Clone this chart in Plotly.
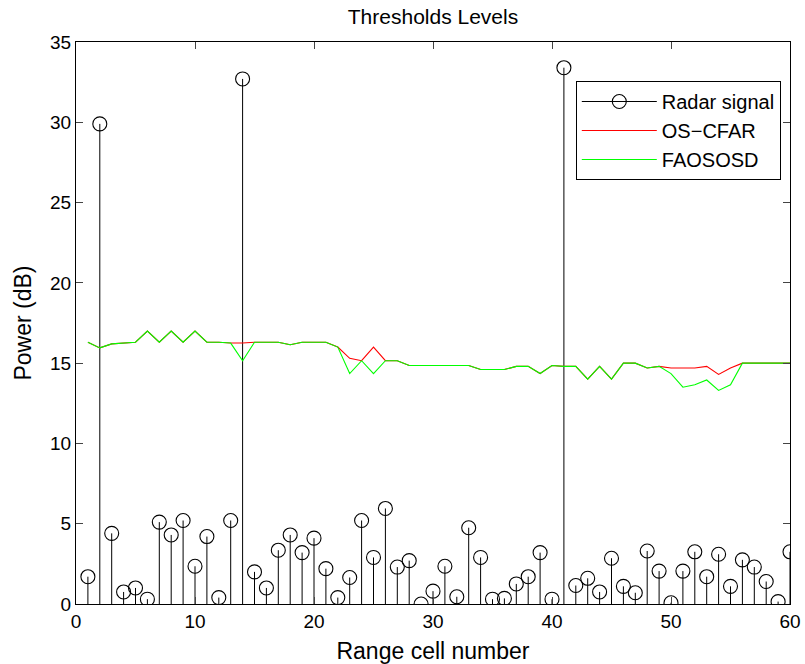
import plotly.graph_objects as go

cells = list(range(1, 61))
radar_signal = [1.7, 29.9, 4.4, 0.75, 1.0, 0.3, 5.1, 4.3, 5.2, 2.35,
                4.2, 0.4, 5.2, 32.7, 2.0, 1.0, 3.35, 4.3, 3.2, 4.1,
                2.2, 0.4, 1.65, 5.2, 2.9, 5.95, 2.3, 2.7, 0.0, 0.8,
                2.35, 0.45, 4.75, 2.9, 0.3, 0.35, 1.25, 1.7, 3.2, 0.3,
                33.4, 1.15, 1.6, 0.75, 2.85, 1.1, 0.7, 3.3, 2.05, 0.08,
                2.05, 3.25, 1.7, 3.1, 1.1, 2.75, 2.3, 1.4, 0.15, 3.25]
os_cfar = [16.3, 15.95, 16.2, 16.25, 16.3, 17.0, 16.3, 17.0, 16.3, 17.0,
           16.3, 16.3, 16.25, 16.25, 16.3, 16.3, 16.3, 16.15, 16.3, 16.3,
           16.3, 16.0, 15.3, 15.15, 16.0, 15.15, 15.15, 14.85, 14.85, 14.85,
           14.85, 14.85, 14.85, 14.6, 14.6, 14.6, 14.8, 14.8, 14.35, 14.85,
           14.8, 14.8, 14.0, 14.8, 14.0, 15.0, 15.0, 14.7, 14.8, 14.7,
           14.7, 14.7, 14.8, 14.3, 14.7, 15.0, 15.0, 15.0, 15.0, 15.0]
faososd = [16.3, 15.95, 16.2, 16.25, 16.3, 17.0, 16.3, 17.0, 16.3, 17.0,
           16.3, 16.3, 16.25, 15.15, 16.3, 16.3, 16.3, 16.15, 16.3, 16.3,
           16.3, 16.0, 14.35, 15.15, 14.35, 15.15, 15.15, 14.85, 14.85, 14.85,
           14.85, 14.85, 14.85, 14.6, 14.6, 14.6, 14.8, 14.8, 14.35, 14.85,
           14.8, 14.8, 14.0, 14.8, 14.0, 15.0, 15.0, 14.7, 14.8, 14.35,
           13.5, 13.65, 13.95, 13.3, 13.65, 15.0, 15.0, 15.0, 15.0, 15.0]

x_ticks = [0, 10, 20, 30, 40, 50, 60]
y_ticks = [0, 5, 10, 15, 20, 25, 30, 35]

FONT = "Liberation Sans, Arial, Helvetica, sans-serif"

# stem lines
sx, sy = [], []
for xi, yi in zip(cells, radar_signal):
    sx += [xi, xi, None]
    sy += [0, yi, None]

fig = go.Figure()
fig.add_trace(go.Scatter(x=sx, y=sy, mode="lines",
                         line=dict(color="black", width=1),
                         showlegend=False, hoverinfo="skip"))
fig.add_trace(go.Scatter(x=cells, y=radar_signal, mode="markers",
                         marker=dict(symbol="circle-open", size=14,
                                     color="black", line=dict(width=1.1)),
                         showlegend=False))
fig.add_trace(go.Scatter(x=[None], y=[None], mode="lines+markers",
                         name="Radar signal",
                         line=dict(color="black", width=1),
                         marker=dict(symbol="circle-open", size=14,
                                     color="black", line=dict(width=1.1))))
fig.add_trace(go.Scatter(x=cells, y=os_cfar, mode="lines", name="OS\u2212CFAR",
                         line=dict(color="#ff0000", width=1.1)))
fig.add_trace(go.Scatter(x=cells, y=faososd, mode="lines", name="FAOSOSD",
                         line=dict(color="#00ff00", width=1.1)))

fig.update_layout(
    width=805, height=664,
    margin=dict(l=76, r=15, t=42, b=60, autoexpand=False),
    paper_bgcolor="white", plot_bgcolor="white",
    font=dict(family=FONT, size=19, color="black"),
    title=dict(text="Thresholds Levels", x=(76 + 790) / 2 / 805, xanchor="center",
               y=1 - 17 / 664, yanchor="middle", yref="container",
               font=dict(family=FONT, size=21, color="black")),
    legend=dict(x=0.7, y=0.9306, xanchor="left", yanchor="top",
                bgcolor="white", bordercolor="black", borderwidth=1,
                font=dict(family=FONT, size=20), itemwidth=75,
                tracegroupgap=0),
    showlegend=True,
)
fig.update_xaxes(range=[0, 60], tickvals=x_ticks, ticks="inside", ticklen=7,
                 showline=True, linecolor="black", linewidth=1, mirror="ticks",
                 showgrid=False, zeroline=False, automargin=False,
                 title=dict(text="Range cell number", standoff=14),
                 tickfont=dict(size=19))
fig.update_yaxes(range=[0, 35], tickvals=y_ticks, ticks="inside", ticklen=7,
                 showline=True, linecolor="black", linewidth=1, mirror="ticks",
                 showgrid=False, zeroline=False, automargin=False,
                 title=dict(text="Power (dB)", standoff=12),
                 tickfont=dict(size=19))

fig.write_html("out.html")
